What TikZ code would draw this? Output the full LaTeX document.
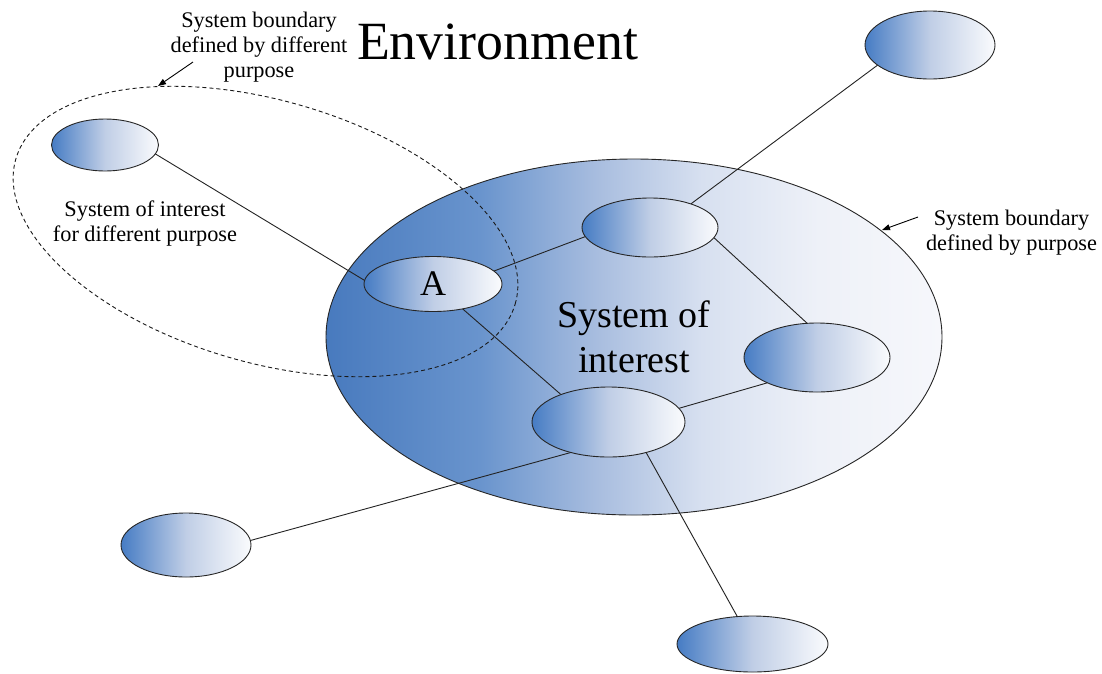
\documentclass[tikz,border=0pt]{standalone}
\usepackage{fontspec}
\setmainfont{Liberation Serif}
\usetikzlibrary{shapes.geometric,arrows.meta}
\pgfdeclarelayer{bg}
\pgfdeclarelayer{mid}
\pgfsetlayers{bg,mid,main}
\definecolor{sbA}{RGB}{70,124,196}
\definecolor{sbB}{RGB}{192,206,230}
\definecolor{sbC}{RGB}{250,251,253}
\definecolor{bbA}{RGB}{72,122,190}
\definecolor{bbB}{RGB}{105,148,205}
\definecolor{bbC}{RGB}{168,189,223}
\definecolor{bbD}{RGB}{215,224,240}
\definecolor{bbE}{RGB}{238,241,248}
\definecolor{bbF}{RGB}{246,247,251}
\definecolor{linec}{RGB}{35,35,35}
\pgfdeclarehorizontalshading{bigshade}{100bp}{color(0bp)=(bbA); color(25bp)=(bbA); color(37.5bp)=(bbB); color(47bp)=(bbC); color(55.5bp)=(bbD); color(65bp)=(bbE); color(75bp)=(bbF); color(100bp)=(bbF)}
\tikzset{
  smallell/.style={ellipse, draw=black!85, line width=0.9pt, inner sep=0pt, outer sep=0pt,
    left color=sbA, right color=sbC, middle color=sbB},
  bigell/.style={ellipse, draw=black!85, line width=0.9pt, inner sep=0pt, outer sep=0pt,
    shade, shading=bigshade, align=center, font=\fontsize{38}{45}\selectfont},
  conn/.style={draw=linec, line width=0.9pt},
  arr/.style={draw=black, line width=0.9pt, -{Triangle[length=8pt,width=6pt]}},
  lbl/.style={align=center, inner sep=0pt, font=\fontsize{22.3}{25}\selectfont},
  dashell/.style={draw=black!90, line width=0.9pt, dash pattern=on 4pt off 3pt}
}
\begin{document}
\begin{tikzpicture}[x=1pt,y=-1pt]
\useasboundingbox (0,0) rectangle (1102,673);
\begin{pgfonlayer}{bg}
\node[bigell, minimum width=616pt, minimum height=356pt] (soi) at (634,337) {System of\\interest};
\end{pgfonlayer}
% small ellipses
\node[smallell, minimum width=107pt, minimum height=52pt] (L1) at (105,145) {};
\node[smallell, minimum width=138pt, minimum height=55pt, font=\fontsize{36}{40}\selectfont] (A) at (433,284) {A};
\node[smallell, minimum width=136pt, minimum height=59pt] (UM) at (650,227.5) {};
\node[smallell, minimum width=146pt, minimum height=69pt] (R) at (817,357.5) {};
\node[smallell, minimum width=153pt, minimum height=70pt] (LM) at (608.5,422) {};
\node[smallell, minimum width=130pt, minimum height=68pt] (TR) at (930,45) {};
\node[smallell, minimum width=130pt, minimum height=64pt] (BL) at (186,545) {};
\node[smallell, minimum width=151pt, minimum height=56pt] (B) at (752.5,644) {};
% texts
\node[font=\fontsize{53.8}{60}\selectfont, anchor=base, inner sep=0pt] (env) at (497.5,59) {Environment};
\node[lbl] (sbd) at (259,46.7) {System boundary\\defined by different\\purpose};
\node[lbl, anchor=base] (soid) at (145,241) {System of interest\\for different purpose};
\node[lbl] (sbp) at (1011.5,233) {System boundary\\defined by purpose};
% connectors and dashed boundary
\begin{pgfonlayer}{mid}
\draw[dashell, rotate around={-16.2:(265.5,231.5)}] (265.5,231.5) ellipse [x radius=260pt, y radius=131pt];
\draw[conn] (L1.-10) -- (A.177);
\draw[conn] (A.12) -- (UM.-172);
\draw[conn] (A.-40) -- (LM.150);
\draw[conn] (UM.30) -- (TR.201);
\draw[conn] (UM.-9.5) -- (R.106);
\draw[conn] (R.207) -- (LM.11);
\draw[conn] (LM.219) -- (BL.4);
\draw[conn] (LM.-39) -- (B.119);
\end{pgfonlayer}
\coordinate (t1) at (193,62);
\coordinate (h1) at (158,86);
\coordinate (t2) at (918,217);
\coordinate (h2) at (882,230);
\draw[arr] (t1) -- (h1);
\draw[arr] (t2) -- (h2);
\end{tikzpicture}
\end{document}
